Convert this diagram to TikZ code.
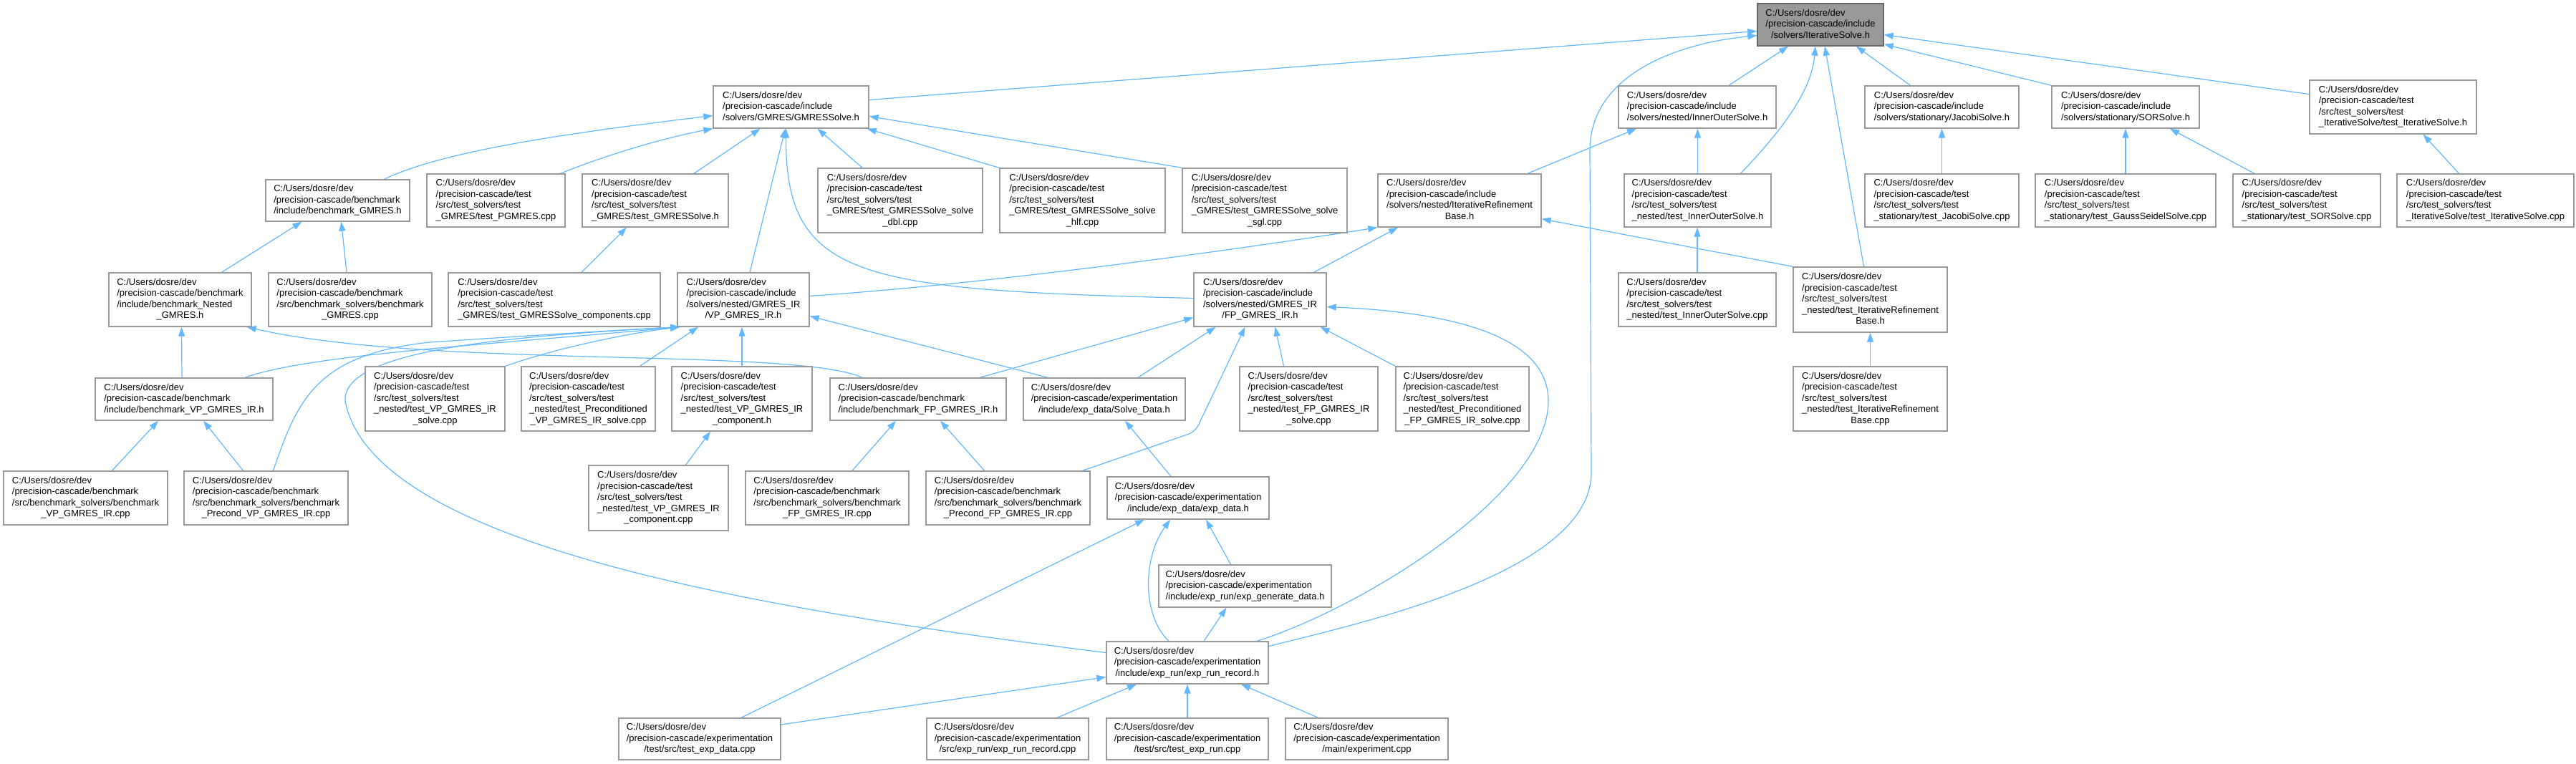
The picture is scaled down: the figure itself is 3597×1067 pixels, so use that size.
\documentclass[tikz,border=0pt]{standalone}
\usepackage{fontspec}
\setmainfont{Liberation Sans}
\usetikzlibrary{arrows.meta,calc}
\definecolor{edgeblue}{HTML}{63B8FF}
\definecolor{boxgray}{HTML}{999999}
\definecolor{rootfill}{HTML}{999999}
\definecolor{rootdraw}{HTML}{666666}
\pgfdeclarelayer{paper}
\pgfdeclarelayer{bg}
\pgfsetlayers{paper,bg,main}
\newcommand{\lbl}[2]{\begin{tabular}{@{}l@{}}#1\multicolumn{1}{@{}c@{}}{#2}\end{tabular}}
\def\pc{C:/Users/dosre/dev\\/precision-cascade/}
\def\ts{/src/test\_solvers/test\\}
\newcommand{\nd}[7][]{%
  \pgfmathsetmacro\ncx{(#3+#4)/2}%
  \pgfmathsetmacro\ncy{(#5+#6)/2}%
  \pgfmathsetmacro\nw{#4-#3}%
  \pgfmathsetmacro\nh{#6-#5}%
  \node[filebox,#1,minimum width=\nw pt,minimum height=\nh pt] (#2) at (\ncx,\ncy) {#7};}
\begin{document}
\begin{tikzpicture}[x=1pt,y=-1pt,
  filebox/.style={draw=boxgray,fill=white,line width=1.4pt,inner sep=0pt,
    font=\fontsize{13}{15.5}\selectfont},
  root/.style={fill=rootfill,draw=rootdraw},
  ed/.style={draw=edgeblue,line width=1.2pt,-{Triangle[length=13pt,width=9pt]}}]
\useasboundingbox (0,0) rectangle (3597,1067);
\begin{pgfonlayer}{paper}
\fill[white] (0,0) rectangle (3597,1067);
\end{pgfonlayer}
% ---- nodes ----
\nd[root]{IS}{2454}{2630}{5}{64}{\lbl{\pc include\\}{/solvers/IterativeSolve.h}}
\nd{GS}{996}{1213}{120}{179}{\lbl{\pc include\\}{/solvers/GMRES/GMRESSolve.h}}
\nd{IOS}{2260}{2480}{120}{179}{\lbl{\pc include\\}{/solvers/nested/InnerOuterSolve.h}}
\nd{Jac}{2604}{2819}{120}{179}{\lbl{\pc include\\}{/solvers/stationary/JacobiSolve.h}}
\nd{SOR}{2865}{3071}{120}{179}{\lbl{\pc include\\}{/solvers/stationary/SORSolve.h}}
\nd{tISh}{3225}{3458}{112}{187}{\lbl{\pc test\\\ts}{\_IterativeSolve/test\_IterativeSolve.h}}
%
\nd{bGh}{371}{572}{251}{309}{\lbl{\pc benchmark\\}{/include/benchmark\_GMRES.h}}
\nd{tPG}{596}{789}{243}{317}{\lbl{\pc test\\\ts}{\_GMRES/test\_PGMRES.cpp}}
\nd{tGSh}{813}{1017}{243}{317}{\lbl{\pc test\\\ts}{\_GMRES/test\_GMRESSolve.h}}
\nd{dbl}{1142}{1372}{235}{325}{\lbl{\pc test\\\ts\_GMRES/test\_GMRESSolve\_solve\\}{\_dbl.cpp}}
\nd{hlf}{1396}{1627}{235}{325}{\lbl{\pc test\\\ts\_GMRES/test\_GMRESSolve\_solve\\}{\_hlf.cpp}}
\nd{sgl}{1651}{1881}{235}{325}{\lbl{\pc test\\\ts\_GMRES/test\_GMRESSolve\_solve\\}{\_sgl.cpp}}
\nd{IRB}{1924}{2152}{243}{317}{\lbl{\pc include\\/solvers/nested/IterativeRefinement\\}{Base.h}}
\nd{tIOSh}{2268}{2473}{243}{317}{\lbl{\pc test\\\ts}{\_nested/test\_InnerOuterSolve.h}}
\nd{tJac}{2604}{2819}{243}{317}{\lbl{\pc test\\\ts}{\_stationary/test\_JacobiSolve.cpp}}
\nd{tGSeid}{2842}{3094}{243}{317}{\lbl{\pc test\\\ts}{\_stationary/test\_GaussSeidelSolve.cpp}}
\nd{tSOR}{3118}{3324}{243}{317}{\lbl{\pc test\\\ts}{\_stationary/test\_SORSolve.cpp}}
\nd{tISc}{3347}{3594}{243}{317}{\lbl{\pc test\\\ts}{\_IterativeSolve/test\_IterativeSolve.cpp}}
%
\nd{bNG}{152}{351}{381}{456}{\lbl{\pc benchmark\\/include/benchmark\_Nested\\}{\_GMRES.h}}
\nd{bGc}{375}{603}{381}{456}{\lbl{\pc benchmark\\/src/benchmark\_solvers/benchmark\\}{\_GMRES.cpp}}
\nd{tGScomp}{626}{922}{381}{456}{\lbl{\pc test\\\ts}{\_GMRES/test\_GMRESSolve\_components.cpp}}
\nd{VP}{946}{1130}{381}{456}{\lbl{\pc include\\/solvers/nested/GMRES\_IR\\}{/VP\_GMRES\_IR.h}}
\nd{FP}{1667}{1852}{381}{456}{\lbl{\pc include\\/solvers/nested/GMRES\_IR\\}{/FP\_GMRES\_IR.h}}
\nd{tIOSc}{2260}{2480}{381}{456}{\lbl{\pc test\\\ts}{\_nested/test\_InnerOuterSolve.cpp}}
\nd{tIRBh}{2504}{2719}{373}{464}{\lbl{\pc test\\\ts\_nested/test\_IterativeRefinement\\}{Base.h}}
%
\nd{bVPh}{133}{381}{528}{587}{\lbl{\pc benchmark\\}{/include/benchmark\_VP\_GMRES\_IR.h}}
\nd{tVPs}{510}{705}{512}{602}{\lbl{\pc test\\\ts\_nested/test\_VP\_GMRES\_IR\\}{\_solve.cpp}}
\nd{tPVPs}{728}{915}{512}{602}{\lbl{\pc test\\\ts\_nested/test\_Preconditioned\\}{\_VP\_GMRES\_IR\_solve.cpp}}
\nd{tVPch}{938}{1134}{512}{602}{\lbl{\pc test\\\ts\_nested/test\_VP\_GMRES\_IR\\}{\_component.h}}
\nd{bFPh}{1159}{1405}{528}{587}{\lbl{\pc benchmark\\}{/include/benchmark\_FP\_GMRES\_IR.h}}
\nd{SD}{1429}{1655}{528}{587}{\lbl{\pc experimentation\\}{/include/exp\_data/Solve\_Data.h}}
\nd{tFPs}{1731}{1924}{512}{602}{\lbl{\pc test\\\ts\_nested/test\_FP\_GMRES\_IR\\}{\_solve.cpp}}
\nd{tPFPs}{1949}{2135}{512}{602}{\lbl{\pc test\\\ts\_nested/test\_Preconditioned\\}{\_FP\_GMRES\_IR\_solve.cpp}}
\nd{tIRBc}{2504}{2719}{512}{602}{\lbl{\pc test\\\ts\_nested/test\_IterativeRefinement\\}{Base.cpp}}
%
\nd{bVPc}{5}{234}{658}{733}{\lbl{\pc benchmark\\/src/benchmark\_solvers/benchmark\\}{\_VP\_GMRES\_IR.cpp}}
\nd{bPVPc}{257}{486}{658}{733}{\lbl{\pc benchmark\\/src/benchmark\_solvers/benchmark\\}{\_Precond\_VP\_GMRES\_IR.cpp}}
\nd{tVPcc}{822}{1017}{650}{741}{\lbl{\pc test\\\ts\_nested/test\_VP\_GMRES\_IR\\}{\_component.cpp}}
\nd{bFPc}{1041}{1269}{658}{733}{\lbl{\pc benchmark\\/src/benchmark\_solvers/benchmark\\}{\_FP\_GMRES\_IR.cpp}}
\nd{bPFPc}{1293}{1522}{658}{733}{\lbl{\pc benchmark\\/src/benchmark\_solvers/benchmark\\}{\_Precond\_FP\_GMRES\_IR.cpp}}
\nd{ED}{1546}{1772}{666}{725}{\lbl{\pc experimentation\\}{/include/exp\_data/exp\_data.h}}
\nd{EG}{1618}{1859}{789}{848}{\lbl{\pc experimentation\\}{/include/exp\_run/exp\_generate\_data.h}}
\nd{ER}{1545}{1771}{896}{955}{\lbl{\pc experimentation\\}{/include/exp\_run/exp\_run\_record.h}}
\nd{tED}{864}{1090}{1003}{1061}{\lbl{\pc experimentation\\}{/test/src/test\_exp\_data.cpp}}
\nd{ERc}{1294}{1520}{1003}{1061}{\lbl{\pc experimentation\\}{/src/exp\_run/exp\_run\_record.cpp}}
\nd{tER}{1545}{1771}{1003}{1061}{\lbl{\pc experimentation\\}{/test/src/test\_exp\_run.cpp}}
\nd{xpm}{1795}{2022}{1003}{1061}{\lbl{\pc experimentation\\}{/main/experiment.cpp}}
% ---- edges ----
\begin{pgfonlayer}{bg}
% into IterativeSolve.h
\draw[ed] ($(GS.east)+(0,-10)$) -- ($(IS.west)+(0,9)$);
\draw[ed] ($(ER.east)+(0,-23)$) .. controls (1900,870) and (2222,800) .. (2222,660) -- (2220,210) .. controls (2220,110) and (2330,62) .. ($(IS.west)+(0,15)$);
\draw[ed] ($(IOS.north)+(44,0)$) -- ($(IS.south)+(-45,0)$);
\draw[ed] ($(tIOSh.north)+(60,0)$) .. controls (2500,170) and (2530,120) .. ($(IS.south)+(-7,0)$);
\draw[ed] ($(tIRBh.north)+(-9,0)$) -- ($(IS.south)+(6,0)$);
\draw[ed] ($(Jac.north)+(-44,0)$) -- ($(IS.south)+(50,0)$);
\draw[ed] (SOR.north west) -- ($(IS.south east)+(0,-3)$);
\draw[ed] ($(tISh.west)+(0,-18)$) -- ($(IS.east)+(0,14)$);
% into GMRESSolve.h
\draw[ed] ($(bGh.north)+(65,0)$) .. controls (620,210) and (800,185) .. ($(GS.west)+(0,12)$);
\draw[ed] ($(tPG.north)+(90,0)$) .. controls (850,215) and (930,192) .. (GS.south west);
\draw[ed] ($(tGSh.north)+(54,0)$) -- ($(GS.south)+(-43,0)$);
\draw[ed] ($(VP.north)+(9,0)$) -- ($(GS.south)+(-8,0)$);
\draw[ed] ($(FP.west)+(0,-2)$) .. controls (1200,405) and (1097,390) .. ($(GS.south)+(-7,0)$);
\draw[ed] ($(dbl.north)+(-53,0)$) -- ($(GS.south)+(37,0)$);
\draw[ed] (hlf.north west) -- ($(GS.south east)+(-3,0)$);
\draw[ed] (sgl.north west) -- ($(GS.east)+(0,13)$);
% IterativeRefinementBase / InnerOuter
\draw[ed] ($(IRB.north)+(95,0)$) -- ($(IOS.south)+(-85,0)$);
\draw[ed] (tIRBh.north west) -- ($(IRB.south east)+(0,-12)$);
\draw[ed] ($(VP.east)+(0,-5)$) .. controls (1400,395) and (1750,345) .. (IRB.south west);
\draw[ed] ($(FP.north)+(75,0)$) -- ($(IRB.south)+(-86,0)$);
\draw[ed] (tIOSh.north) -- (tIOSh.north |- IOS.south);
\draw[ed] (tIOSc.north) -- (tIOSc.north |- tIOSh.south);
\draw[ed] (tIRBc) -- (tIRBh);
\draw[ed] (tJac) -- (Jac);
\draw[ed] (tGSeid) -- (SOR);
\draw[ed] ($(tSOR.north)+(-73,0)$) -- ($(SOR.south)+(62,0)$);
\draw[ed] ($(tISc.north)+(-37,0)$) -- ($(tISh.south)+(42,0)$);
% benchmarks GMRES
\draw[ed] ($(bGc.north)+(-5,0)$) -- ($(bGh.south)+(5,0)$);
\draw[ed] ($(bNG.north)+(58,0)$) -- ($(bGh.south)+(-50,0)$);
\draw[ed] ($(tGScomp.north)+(38,0)$) -- ($(tGSh.south)+(-40,0)$);
\draw[ed] ($(bVPh.north)+(-3,0)$) -- ($(bNG.south)+(2,0)$);
\draw[ed] ($(bFPh.north)+(-78,0)$) .. controls (1110,485) and (600,515) .. ($(bNG.south east)+(-7,0)$);
% into VP_GMRES_IR.h
\draw[ed] ($(bVPh.north)+(85,0)$) .. controls (430,495) and (700,480) .. ($(VP.south west)+(4,0)$);
\draw[ed] ($(bPVPc.north)+(10,0)$) .. controls (415,560) and (440,495) .. (600,478) .. controls (750,468) and (880,460) .. ($(VP.south west)+(4,0)$);
\draw[ed] ($(ER.west)+(0,-14)$) .. controls (1050,850) and (520,760) .. (482,560) .. controls (478,490) and (700,470) .. ($(VP.south west)+(4,0)$);
\draw[ed] (tVPs.north east) .. controls (780,485) and (880,465) .. ($(VP.south west)+(4,0)$);
\draw[ed] ($(tPVPs.north)+(72,0)$) -- ($(VP.south)+(-63,0)$);
\draw[ed] (tVPch.north) -- (tVPch.north |- VP.south);
\draw[ed] ($(SD.north)+(-79,0)$) -- ($(VP.east)+(0,23)$);
\draw[ed] ($(tVPcc.north)+(38,0)$) -- ($(tVPch.south)+(-44,0)$);
% into FP_GMRES_IR.h
\draw[ed] ($(bFPh.north)+(86,0)$) -- ($(FP.west)+(0,25)$);
\draw[ed] ($(SD.north)+(47,0)$) -- ($(FP.south)+(-62,0)$);
\draw[ed,rounded corners=10pt] ($(bPFPc.north)+(104,0)$) -- (1669,603) -- ($(FP.south)+(-21,0)$);
\draw[ed] ($(tFPs.north)+(-35,0)$) -- ($(FP.south)+(21,0)$);
\draw[ed] (tPFPs.north west) -- ($(FP.south east)+(-9,0)$);
\draw[ed] ($(ER.north)+(97,0)$) .. controls (1900,850) and (2162,690) .. (2162,560) .. controls (2162,460) and (2000,435) .. ($(FP.east)+(0,10)$);
% benchmark VP / FP
\draw[ed] ($(bVPc.north)+(37,0)$) -- ($(bVPh.south)+(-36,0)$);
\draw[ed] ($(bPVPc.north)+(-32,0)$) -- ($(bVPh.south)+(27,0)$);
\draw[ed] ($(bFPc.north)+(35,0)$) -- ($(bFPh.south)+(-31,0)$);
\draw[ed] ($(bPFPc.north)+(-33,0)$) -- ($(bFPh.south)+(31,0)$);
% experimentation
\draw[ed] ($(ED.north)+(-24,0)$) -- ($(SD.south)+(29,0)$);
\draw[ed] ($(EG.north)+(-20,0)$) -- ($(ED.south)+(25,0)$);
\draw[ed] ($(ER.north)+(-26,0)$) .. controls (1595,860) and (1595,780) .. ($(ED.south)+(-25,0)$);
\draw[ed] ($(ER.north)+(23,0)$) -- ($(EG.south)+(-26,0)$);
\draw[ed] ($(tED.north)+(58,0)$) -- ($(ED.south)+(-61,0)$);
\draw[ed] ($(tED.east)+(0,-20)$) -- ($(ER.west)+(0,20)$);
\draw[ed] ($(ERc.north)+(69,0)$) -- ($(ER.south)+(-71,0)$);
\draw[ed] (tER) -- (ER);
\draw[ed] ($(xpm.north)+(-68,0)$) -- ($(ER.south)+(75,0)$);
\end{pgfonlayer}
\end{tikzpicture}
\end{document}
